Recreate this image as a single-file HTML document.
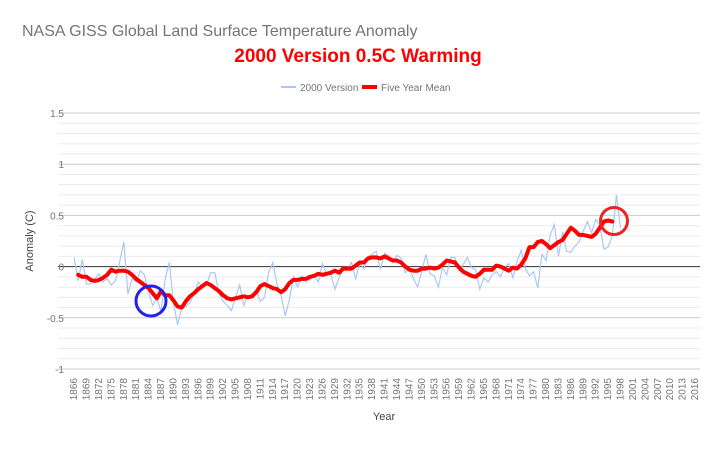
<!DOCTYPE html>
<html><head><meta charset="utf-8"><style>
body{margin:0;background:#fff;font-family:"Liberation Sans",sans-serif}
svg text{font-family:"Liberation Sans",sans-serif}
</style></head><body>
<svg id="c" width="720" height="444" xmlns="http://www.w3.org/2000/svg">
<text x="22" y="36" font-size="16" fill="#757575">NASA GISS Global Land Surface Temperature Anomaly</text>
<text x="358" y="62" font-size="19" font-weight="bold" fill="#ff0000" text-anchor="middle">2000 Version  0.5C Warming</text>
<g>
<g><line x1="281" y1="87" x2="296" y2="87" stroke="#a9c8f5" stroke-width="2"/><text x="300" y="91" font-size="10" fill="#757575">2000 Version</text></g>
<g><line x1="362" y1="87" x2="377" y2="87" stroke="#ff0000" stroke-width="4"/><text x="381" y="91" font-size="10" fill="#757575">Five Year Mean</text></g>
</g>
<text transform="translate(33,241) rotate(-90)" font-size="11" fill="#444" text-anchor="middle">Anomaly (C)</text>
<text x="384" y="420" font-size="11" fill="#444" text-anchor="middle">Year</text>
<g id="grid"></g><g id="ticks"></g><g id="series"></g>
<circle cx="151" cy="301" r="15" fill="none" stroke="#2222ee" stroke-width="3"/>
<circle cx="614" cy="221" r="13.5" fill="none" stroke="#ee2222" stroke-width="3"/>
</svg>
<script>
const startYear = 1866;
const endYear = 2018;
const yTicks = [1.5, 1, 0.5, 0, -0.5, -1];
const annualValues = [0.09,-0.14,0.07,-0.17,-0.17,-0.12,-0.07,-0.15,-0.12,-0.18,-0.14,0.04,0.24,-0.27,-0.12,-0.15,-0.04,-0.08,-0.25,-0.38,-0.31,-0.44,-0.12,0.04,-0.35,-0.57,-0.40,-0.39,-0.35,-0.27,-0.15,-0.20,-0.18,-0.06,-0.06,-0.26,-0.34,-0.38,-0.43,-0.30,-0.18,-0.38,-0.28,-0.31,-0.24,-0.34,-0.30,-0.06,0.04,-0.17,-0.28,-0.48,-0.32,-0.10,-0.20,-0.09,-0.15,-0.13,-0.09,-0.15,0.03,-0.07,-0.08,-0.22,-0.11,-0.03,-0.02,0.04,-0.12,0.03,-0.02,0.10,0.12,0.15,-0.03,0.13,0.11,0.04,0.11,0.08,-0.06,-0.02,-0.12,-0.20,-0.04,0.12,-0.07,-0.09,-0.20,-0.01,-0.08,0.09,0.09,-0.04,0.02,0.09,-0.01,-0.03,-0.22,-0.11,-0.15,-0.08,-0.05,-0.10,-0.01,0.03,-0.11,0.05,0.16,-0.02,-0.09,-0.05,-0.21,0.12,0.06,0.31,0.41,0.10,0.34,0.15,0.14,0.20,0.24,0.35,0.44,0.33,0.46,0.40,0.17,0.19,0.30,0.70,0.38];
const meanStart = 1867;
const meanValues = [-0.08,-0.10,-0.10,-0.13,-0.14,-0.13,-0.11,-0.08,-0.03,-0.05,-0.04,-0.04,-0.05,-0.08,-0.12,-0.15,-0.18,-0.21,-0.26,-0.31,-0.24,-0.28,-0.28,-0.33,-0.39,-0.40,-0.34,-0.29,-0.26,-0.22,-0.19,-0.16,-0.18,-0.21,-0.24,-0.28,-0.31,-0.32,-0.31,-0.30,-0.29,-0.30,-0.29,-0.25,-0.19,-0.17,-0.19,-0.21,-0.22,-0.25,-0.22,-0.16,-0.13,-0.13,-0.12,-0.12,-0.10,-0.09,-0.07,-0.08,-0.07,-0.06,-0.04,-0.06,-0.02,-0.02,-0.02,0.01,0.04,0.04,0.08,0.09,0.09,0.08,0.10,0.08,0.06,0.06,0.04,0.00,-0.03,-0.04,-0.04,-0.02,-0.02,-0.01,-0.02,-0.01,0.02,0.06,0.05,0.04,-0.01,-0.05,-0.07,-0.09,-0.10,-0.07,-0.03,-0.03,-0.03,0.01,0.00,-0.02,-0.04,-0.01,-0.02,0.02,0.08,0.19,0.19,0.24,0.25,0.22,0.18,0.21,0.24,0.26,0.32,0.38,0.35,0.31,0.31,0.30,0.29,0.32,0.38,0.44,0.45,0.44];

const NS='http://www.w3.org/2000/svg';
const L=72,T=113,B=369,GR=700;
const band=4.14;
function xScale(yr){return L+(yr-startYear+0.5)*band;}
function yScale(v){return T+(1.5-v)*(B-T)/2.5;}
function mk(tag,attrs,parent){const e=document.createElementNS(NS,tag);for(const k in attrs)e.setAttribute(k,attrs[k]);parent.appendChild(e);return e;}
const grid=document.getElementById('grid'),ticks=document.getElementById('ticks'),series=document.getElementById('series');
for(let i=0;i<=25;i++){const v=-1+i*0.1;const y=yScale(v);
 const major=i%5===0;
 const g=mk('line',{x1:58,x2:GR,y1:y,y2:y,stroke:Math.abs(v)<1e-6?'#333':(major?'#ccc':'#ebebeb'),'stroke-width':1},grid);
 
 
}
yTicks.forEach(v=>{const t=mk('text',{x:64,y:yScale(v)+4,'font-size':10,fill:'#757575','text-anchor':'end'},ticks);t.textContent=String(v);
 
 
});
for(let yr=startYear;yr<=2016;yr+=3){const x=xScale(yr)+3;
 const t=mk('text',{transform:`translate(${x},378) rotate(-90)`,'font-size':10,fill:'#757575','text-anchor':'end'},ticks);t.textContent=yr;
 
 
}
const pa=annualValues.map((v,i)=>xScale(startYear+i).toFixed(1)+','+yScale(v).toFixed(1)).join(' ');
const p1=mk('polyline',{points:pa,fill:'none',stroke:'#a9c8f5','stroke-width':1.2},series);


const pm=meanValues.map((v,i)=>xScale(meanStart+i).toFixed(1)+','+yScale(v).toFixed(1)).join(' ');
const p2=mk('polyline',{points:pm,fill:'none',stroke:'#ff0000','stroke-width':4,'stroke-linejoin':'round','stroke-linecap':'round'},series);


</script>
</body></html>
